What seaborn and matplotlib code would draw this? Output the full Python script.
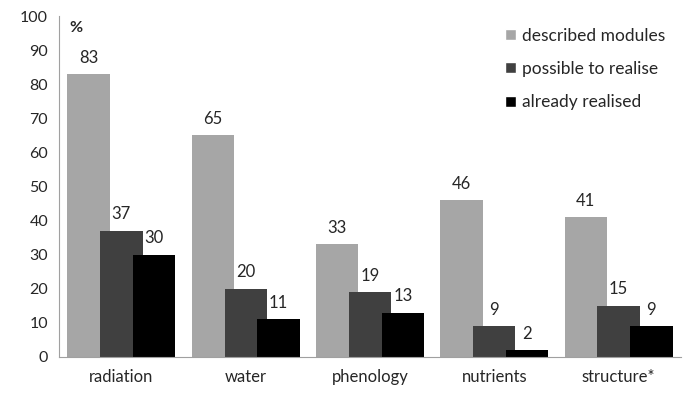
import pandas as pd
import matplotlib
matplotlib.use("Agg")
import matplotlib.pyplot as plt
import seaborn as sns

# data
categories = ["radiation", "water", "phenology", "nutrients", "structure*"]
described = [83, 65, 33, 46, 41]
possible = [37, 20, 19, 9, 15]
realised = [30, 11, 13, 2, 9]
series = ["described modules", "possible to realise", "already realised"]
colors = ["#a6a6a6", "#404040", "#000000"]

df = pd.DataFrame({
    "category": categories,
    series[0]: described,
    series[1]: possible,
    series[2]: realised,
})
long_df = df.melt(id_vars="category", var_name="series", value_name="value")

sns.set_style("white")
plt.rcParams["font.family"] = ["Lato", "DejaVu Sans"]

fig = plt.figure(figsize=(6.89, 3.93), dpi=100)
ax = fig.add_axes([0.086, 0.092, 0.902, 0.867])

sns.barplot(
    data=long_df,
    x="category",
    y="value",
    hue="series",
    hue_order=series,
    palette=colors,
    width=0.792,
    saturation=1,
    errorbar=None,
    ax=ax,
)

# Excel-like overlapping bars: widen each bar around its own centre
bar_w = 0.34
for container in ax.containers:
    for patch in container:
        cx = patch.get_x() + patch.get_width() / 2
        patch.set_width(bar_w)
        patch.set_x(cx - bar_w / 2)
        patch.set_linewidth(0)
    ax.bar_label(container, fmt="%d", padding=6, fontsize=12)

ax.set_xlim(-0.5, len(categories) - 0.5)
ax.set_ylim(0, 100)
ax.set_yticks(range(0, 101, 10))
ax.set_xlabel("")
ax.set_ylabel("")

# category separators as ticks below the axis
ax.set_xticks([i - 0.5 for i in range(len(categories) + 1)], minor=True)
ax.tick_params(axis="x", which="major", length=0, pad=9, labelsize=12)
ax.tick_params(axis="x", which="minor", length=5, color="#a0a0a0", width=0.8)
ax.tick_params(axis="y", length=4, color="#a0a0a0", width=0.8, labelsize=11.5, pad=4)

sns.despine(ax=ax)
for side in ["left", "bottom"]:
    ax.spines[side].set_color("#a0a0a0")
    ax.spines[side].set_linewidth(0.8)

ax.text(0.016, 0.985, "%", transform=ax.transAxes, ha="left", va="top",
        fontsize=11.5, fontweight="bold")

ax.legend(
    loc="upper right",
    bbox_to_anchor=(1.0, 1.012),
    frameon=False,
    fontsize=12.5,
    handlelength=0.6,
    handleheight=0.6,
    handletextpad=0.35,
    labelspacing=1.0,
)

fig.savefig("out.png", dpi=100)
